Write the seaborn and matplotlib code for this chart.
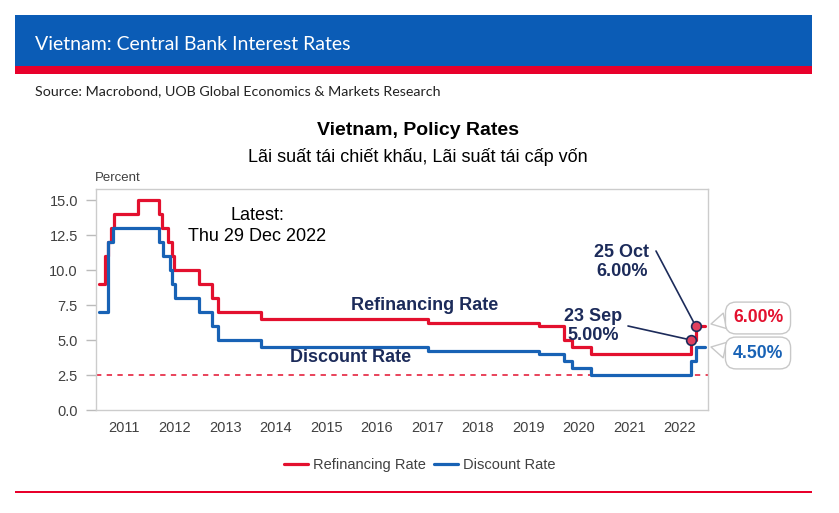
import pandas as pd
import numpy as np
import matplotlib
matplotlib.use('Agg')
import matplotlib.pyplot as plt
import matplotlib.dates as mdates
from matplotlib.patches import Rectangle
from matplotlib.ticker import FuncFormatter
import seaborn as sns

# Taux (date du changement -> nouveau taux)
refi_dates = ['2011-01-01', '2011-02-14', '2011-03-07', '2011-03-28', '2011-04-18',
              '2011-10-08', '2012-03-12', '2012-04-02', '2012-05-15', '2012-06-11',
              '2012-06-28', '2012-12-24', '2013-03-25', '2013-05-10', '2014-03-18',
              '2017-07-10', '2019-09-16', '2020-03-17', '2020-05-13', '2020-10-01',
              '2022-09-23', '2022-10-25', '2022-12-29']
refi_rates = [9.0, 11.0, 12.0, 13.0, 14.0, 15.0, 14.0, 13.0, 12.0, 11.0, 10.0, 9.0,
              8.0, 7.0, 6.5, 6.25, 6.0, 5.0, 4.5, 4.0, 5.0, 6.0, 6.0]

disc_dates = ['2011-01-01', '2011-03-07', '2011-04-13', '2012-03-12', '2012-04-08',
              '2012-05-30', '2012-06-14', '2012-07-01', '2012-12-24', '2013-03-25',
              '2013-05-10', '2014-03-18', '2017-07-10', '2019-09-16', '2020-03-17',
              '2020-05-13', '2020-10-01', '2022-09-23', '2022-10-25', '2022-12-29']
disc_rates = [7.0, 12.0, 13.0, 12.0, 11.0, 10.0, 9.0, 8.0, 7.0, 6.0, 5.0, 4.5, 4.25,
              4.0, 3.5, 3.0, 2.5, 3.5, 4.5, 4.5]

series_names = ['Refinancing Rate', 'Discount Rate']
year_labels = [str(y) for y in range(2011, 2023)]
y_ticks = [0.0, 2.5, 5.0, 7.5, 10.0, 12.5, 15.0]

# Points annotés (hausses de 2022)
hike_dates = ['2022-09-23', '2022-10-25']
hike_rates = [5.0, 6.0]
hike_labels = ['23 Sep\n5.00%', '25 Oct\n6.00%']
floor_rate = 2.5

RED = '#e3102e'
BLUE = '#1862b5'
NAVY = '#1c2b5a'
HEADER_BLUE = '#0b5cb6'
HEADER_RED = '#e8002b'
GREY = '#404040'

W, H = 839, 513

df = pd.concat([
    pd.DataFrame({'date': pd.to_datetime(refi_dates), 'rate': refi_rates, 'series': series_names[0]}),
    pd.DataFrame({'date': pd.to_datetime(disc_dates), 'rate': disc_rates, 'series': series_names[1]}),
])

sns.set_style('white')
plt.rcParams['font.family'] = ['Liberation Sans', 'DejaVu Sans']

fig = plt.figure(figsize=(W / 100, H / 100), dpi=100)


def px(x, y):
    """pixels (depuis le haut-gauche) -> coordonnées figure"""
    return x / W, 1 - y / H


# Bandeau d'en-tête
fig.patches.append(Rectangle(px(15, 66), 797 / W, 51 / H, transform=fig.transFigure,
                             facecolor=HEADER_BLUE, edgecolor='none'))
fig.patches.append(Rectangle(px(15, 74), 797 / W, 8 / H, transform=fig.transFigure,
                             facecolor=HEADER_RED, edgecolor='none'))
fig.patches.append(Rectangle(px(15, 493), 797 / W, 1.6 / H, transform=fig.transFigure,
                             facecolor=HEADER_RED, edgecolor='none'))
fig.text(*px(35, 44), 'Vietnam: Central Bank Interest Rates', color='white',
         fontsize=14, family=['Lato', 'DejaVu Sans'], va='center', ha='left')
fig.text(*px(35, 91), 'Source: Macrobond, UOB Global Economics & Markets Research',
         color='#222222', fontsize=10.3, family=['Lato', 'DejaVu Sans'], va='center', ha='left')

# Titres du graphique
fig.text(*px(418, 131), 'Vietnam, Policy Rates', fontsize=14, fontweight='bold',
         ha='center', va='center', color='black')
fig.text(*px(418, 157), 'Lãi suất tái chiết khấu, Lãi suất tái cấp vốn', fontsize=13,
         ha='center', va='center', color='black')
fig.text(*px(95, 178), 'Percent', fontsize=9.5, ha='left', va='center', color=GREY)

l, b = px(96, 410)
ax = fig.add_axes([l, b, 612 / W, 221 / H])

sns.lineplot(data=df, x='date', y='rate', hue='series', hue_order=series_names,
             palette={series_names[0]: RED, series_names[1]: BLUE},
             drawstyle='steps-post', linewidth=2.3, ax=ax)

ax.axhline(floor_rate, color=RED, linestyle=(0, (3.5, 3.5)), linewidth=1.1, zorder=1)

ax.set_xlim(pd.Timestamp('2010-12-10'), pd.Timestamp('2023-01-22'))
ax.set_ylim(0, 15.8)
ax.set_yticks(y_ticks)
ax.yaxis.set_major_formatter(FuncFormatter(lambda v, p: f'{v:.1f}'))
ax.set_xlabel('')
ax.set_ylabel('')

# Traits aux débuts d'année, étiquettes au milieu
ax.xaxis.set_major_locator(mdates.YearLocator())
ax.xaxis.set_major_formatter(plt.NullFormatter())
ax.set_xticks([pd.Timestamp(f'{y}-07-01') for y in year_labels], minor=True)
ax.set_xticklabels(year_labels, minor=True)
ax.tick_params(axis='x', which='major', length=6, color='#bbbbbb', width=1)
ax.tick_params(axis='x', which='minor', length=0, pad=8, labelsize=10.5, labelcolor=GREY)
ax.tick_params(axis='y', length=7, color='#bbbbbb', width=1, pad=6, labelsize=10.5,
               labelcolor=GREY, left=True)

for s in ax.spines.values():
    s.set_color('#cccccc')
    s.set_linewidth(1)

# Légende en bas
handles, labels = ax.get_legend_handles_labels()
ax.get_legend().remove()
fig.legend(handles, labels, loc='center', bbox_to_anchor=px(420, 465), ncol=2,
           frameon=False, fontsize=10.5, handlelength=1.65, handletextpad=0.35,
           columnspacing=0.55, labelcolor=GREY)

# Étiquettes des séries
ax.annotate('Refinancing Rate', xy=px(425, 306), xycoords='figure fraction',
            ha='center', va='center', fontsize=13, fontweight='bold', color=NAVY)
ax.annotate('Discount Rate', xy=px(351, 357), xycoords='figure fraction',
            ha='center', va='center', fontsize=13, fontweight='bold', color=NAVY)
ax.annotate('Latest:\nThu 29 Dec 2022', xy=px(257, 226), xycoords='figure fraction',
            ha='center', va='center', fontsize=13, color='black', linespacing=1.25)

# Points de hausse et lignes vers les étiquettes
hike_x = pd.to_datetime(hike_dates)
ax.plot(hike_x, hike_rates, 'o', ms=7, mfc='#e0405e', mec=NAVY, mew=1.2, zorder=5)
label_pos = [px(593, 326), px(622, 262)]
line_start = [(628, H - 326), (656, H - 251)]
for d, r, txt, pos, st in zip(hike_x, hike_rates, hike_labels, label_pos, line_start):
    ax.annotate(txt, xy=pos, xycoords='figure fraction', ha='center', va='center',
                fontsize=13, fontweight='bold', color=NAVY, linespacing=1.2)
    ax.annotate('', xy=(d, r), xytext=st, textcoords='figure pixels',
                arrowprops=dict(arrowstyle='-', color=NAVY, lw=1.2, shrinkA=0, shrinkB=3.5),
                annotation_clip=False)

# Bulles des derniers taux
last_vals = [refi_rates[-1], disc_rates[-1]]
bubble_y = [318, 353]
tip_y = [324, 347]
for val, col, by, ty in zip(last_vals, [RED, BLUE], bubble_y, tip_y):
    ax.annotate(f'{val:.2f}%', xy=(711, H - ty), xycoords='figure pixels',
                xytext=(758, H - by), textcoords='figure pixels',
                ha='center', va='center', fontsize=12.7, fontweight='bold', color=col,
                bbox=dict(boxstyle='round,pad=0.42,rounding_size=0.6', fc='white',
                          ec='#c8c8c8', lw=1),
                arrowprops=dict(arrowstyle='wedge,tail_width=0.9,shrink_factor=0.5',
                                fc='white', ec='#c8c8c8', lw=1, relpos=(0.1, 0.5),
                                shrinkA=0, shrinkB=0),
                annotation_clip=False)

fig.savefig('out.png', dpi=100)
